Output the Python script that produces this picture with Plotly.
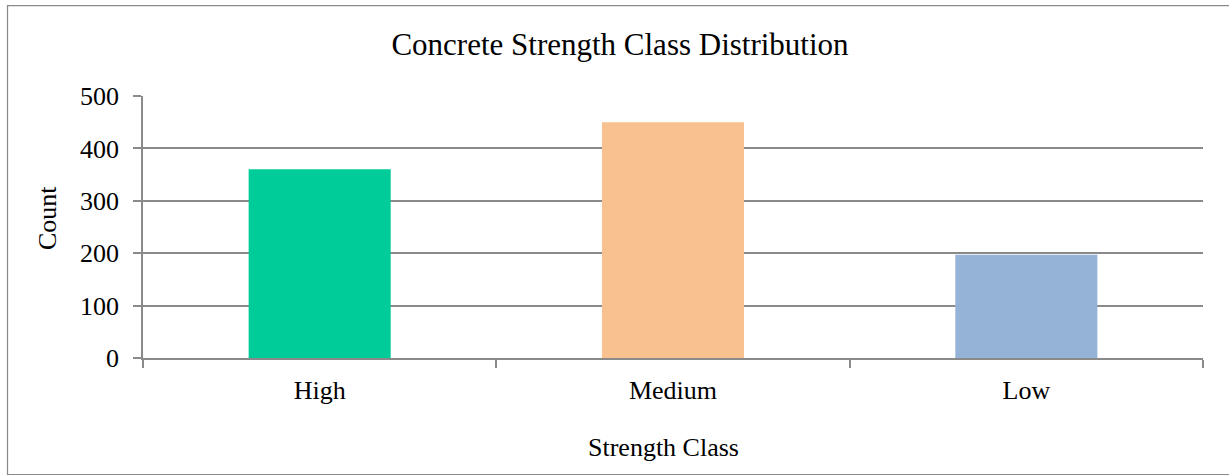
import plotly.graph_objects as go

# Strength class counts
categories = ["High", "Medium", "Low"]
counts = [360, 450, 197]
bar_colors = ["#00CC99", "#F9C18F", "#95B3D7"]

y_ticks = [0, 100, 200, 300, 400, 500]

W, H = 1229, 475
L, R, T, B = 143, 26, 96, 117
plot_w = W - L - R
plot_h = H - T - B

FONT = "Liberation Serif, Times New Roman, serif"
GRID = "#8a8a8a"

fig = go.Figure(
    go.Bar(
        x=categories,
        y=counts,
        marker=dict(color=bar_colors, line=dict(width=0)),
        hoverinfo="x+y",
    )
)

def px_x(px):
    return (px - L) / plot_w

def px_y(py):
    return (H - B - py) / plot_h

fig.update_layout(
    width=W,
    height=H,
    margin=dict(l=L, r=R, t=T, b=B),
    paper_bgcolor="white",
    plot_bgcolor="white",
    bargap=0.598,
    showlegend=False,
    font=dict(family=FONT, color="black", size=26),
    title=dict(
        text="Concrete Strength Class Distribution",
        font=dict(family=FONT, size=31, color="black"),
        x=620 / W,
        xanchor="center",
        y=1 - 44 / H,
        yanchor="middle",
        yref="container",
    ),
    xaxis=dict(
        type="category",
        showline=True,
        linecolor=GRID,
        linewidth=1.5,
        ticks="outside",
        tickson="boundaries",
        ticklen=8,
        tickcolor=GRID,
        tickwidth=1.5,
        showgrid=False,
        tickfont=dict(family=FONT, size=26, color="black"),
        ticklabelstandoff=8,
    ),
    yaxis=dict(
        range=[0, 500],
        tickvals=y_ticks,
        showline=True,
        linecolor=GRID,
        linewidth=1.5,
        ticks="outside",
        ticklen=8,
        tickcolor=GRID,
        tickwidth=1.5,
        showgrid=True,
        gridcolor=GRID,
        gridwidth=1.5,
        zeroline=False,
        tickfont=dict(family=FONT, size=26, color="black"),
        ticklabelstandoff=9,
    ),
    annotations=[
        dict(
            text="Strength Class",
            xref="paper", yref="paper",
            x=px_x(663), y=px_y(447),
            xanchor="center", yanchor="middle",
            showarrow=False,
            font=dict(family=FONT, size=26, color="black"),
        ),
        dict(
            text="Count",
            xref="paper", yref="paper",
            x=px_x(47), y=px_y(218),
            xanchor="center", yanchor="middle",
            textangle=-90,
            showarrow=False,
            font=dict(family=FONT, size=26, color="black"),
        ),
    ],
    shapes=[
        dict(
            type="rect",
            xref="paper", yref="paper",
            x0=px_x(7.5), x1=px_x(1234),
            y0=px_y(474.5), y1=px_y(5.5),
            line=dict(color="#8a8a8a", width=1.25),
            fillcolor="rgba(0,0,0,0)",
            layer="below",
        )
    ],
)

fig.write_html("out.html")
